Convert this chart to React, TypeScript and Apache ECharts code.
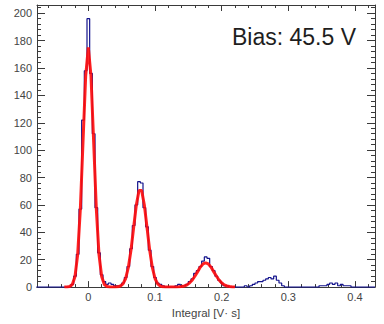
import React, { useEffect, useRef } from 'react';
import * as echarts from 'echarts';

// Histogram binning (lower edge of the first bin, bin width) and bin contents
const BIN_LOW = -0.078;
const BIN_WIDTH = 0.004;
const counts = [
  0, 0, 0, 0, 0, 0, 0, 0, 0, 0,
  0, 0, 0, 2, 8, 24, 57, 122, 158, 196,
  156, 112, 58, 25, 9, 4, 2, 3, 2, 1,
  1, 1, 3, 7, 15, 28, 45, 60, 77, 76,
  58, 44, 27, 15, 7, 3, 2, 1, 0, 0,
  0, 0, 1, 2, 1, 1, 2, 4, 6, 10,
  12, 15, 19, 22, 21, 15, 12, 8, 5, 3,
  1, 1, 0, 0, 0, 0, 0, 0, 1, 0,
  1, 2, 3, 4, 4, 5, 6, 7, 6, 8,
  5, 3, 1, 0, 0, 0, 0, 0, 0, 0,
  0, 0, 0, 0, 0, 0, 1, 1, 1, 2,
  3, 2, 3, 1, 2, 1, 1, 1, 0, 0,
  0, 0, 0, 0, 0, 0, 0,
];

// Fit curve sampled every FIT_STEP starting at FIT_START
const FIT_START = -0.036;
const FIT_STEP = 0.004;
const fitValues = [
  0, 0.1, 0.4, 1.9, 7.7, 23.7, 57, 106, 154, 175,
  154, 106, 57, 23.7, 7.7, 1.9, 0.4, 0.1, 0, 0,
  0.2, 0.8, 2.4, 6.3, 14.3, 27, 43.7, 60, 70.6, 70.6,
  60, 43.7, 27, 14.3, 6.3, 2.4, 0.8, 0.2, 0.1, 0,
  0, 0, 0.1, 0.2, 0.4, 0.8, 1.6, 3.1, 5.2, 8.1,
  11.3, 14.6, 16.9, 17.7, 16.9, 14.6, 11.3, 8.1, 5.2, 3.1,
  1.6, 0.8, 0.4, 0.1, 0,
];

const X_MIN = -0.077;
const X_MAX = 0.43;
const Y_MIN = 0;
const Y_MAX = 206;

const xMajorTicks = [0, 0.1, 0.2, 0.3, 0.4];
const xMinorTicks = [
  -0.06, -0.04, -0.02, 0.02, 0.04, 0.06, 0.08, 0.12, 0.14, 0.16, 0.18,
  0.22, 0.24, 0.26, 0.28, 0.32, 0.34, 0.36, 0.38, 0.42,
];
const yMajorTicks = [0, 20, 40, 60, 80, 100, 120, 140, 160, 180, 200];
const yMinorTicks = [
  4, 8, 12, 16, 24, 28, 32, 36, 44, 48, 52, 56, 64, 68, 72, 76,
  84, 88, 92, 96, 104, 108, 112, 116, 124, 128, 132, 136, 144, 148, 152, 156,
  164, 168, 172, 176, 184, 188, 192, 196, 204,
];

const X_TITLE = 'Integral [V· s]';
const ANNOTATION = 'Bias: 45.5 V';

const FONT = 'Liberation Sans, Arial, Helvetica, sans-serif';
const FRAME = '#3a3a3a';

function xAxis(position: 'top' | 'bottom', ticks: number[], len: number, withLine: boolean, withLabels: boolean) {
  return {
    type: 'value',
    min: X_MIN,
    max: X_MAX,
    position,
    axisLine: { show: withLine, onZero: false, lineStyle: { color: FRAME, width: 1 } },
    axisTick: { show: true, inside: true, length: len, customValues: ticks, lineStyle: { color: FRAME, width: 1 } },
    axisLabel: withLabels
      ? { show: true, customValues: ticks, margin: 4, fontSize: 11, color: '#444', fontFamily: FONT }
      : { show: false },
    splitLine: { show: false },
    ...(withLabels
      ? {
          name: X_TITLE,
          nameLocation: 'middle',
          nameGap: 14,
          nameTextStyle: { fontSize: 11.5, color: '#444', fontFamily: FONT },
        }
      : {}),
  };
}

function yAxis(position: 'left' | 'right', ticks: number[], len: number, withLine: boolean, withLabels: boolean) {
  return {
    type: 'value',
    min: Y_MIN,
    max: Y_MAX,
    position,
    axisLine: { show: withLine, onZero: false, lineStyle: { color: FRAME, width: 1 } },
    axisTick: { show: true, inside: true, length: len, customValues: ticks, lineStyle: { color: FRAME, width: 1 } },
    axisLabel: withLabels
      ? { show: true, customValues: ticks, margin: 5, fontSize: 11, color: '#444', fontFamily: FONT }
      : { show: false },
    splitLine: { show: false },
  };
}

export default function App() {
  const ref = useRef<HTMLDivElement>(null);

  useEffect(() => {
    if (!ref.current) return;
    const chart = echarts.init(ref.current, undefined, { renderer: 'svg' });

    const histData: number[][] = counts.map((c, i) => [BIN_LOW + i * BIN_WIDTH, c]);
    histData.push([BIN_LOW + counts.length * BIN_WIDTH, counts[counts.length - 1]]);
    const fitData: number[][] = fitValues.map((v, i) => [FIT_START + i * FIT_STEP, v]);

    chart.setOption({
      animation: false,
      backgroundColor: '#ffffff',
      grid: { left: 37, right: 9, top: 5, bottom: 29, containLabel: false },
      xAxis: [
        xAxis('bottom', xMajorTicks, 6, true, true),
        xAxis('bottom', xMinorTicks, 3, false, false),
        xAxis('top', xMajorTicks, 6, true, false),
        xAxis('top', xMinorTicks, 3, false, false),
      ],
      yAxis: [
        yAxis('left', yMajorTicks, 8, true, true),
        yAxis('left', yMinorTicks, 4, false, false),
        yAxis('right', yMajorTicks, 8, true, false),
        yAxis('right', yMinorTicks, 4, false, false),
      ],
      graphic: [
        {
          type: 'text',
          x: 232,
          y: 37,
          style: {
            text: ANNOTATION,
            fontSize: 23,
            fontFamily: FONT,
            fill: '#1e1e1e',
            verticalAlign: 'middle',
            align: 'left',
          },
          z: 10,
        },
      ],
      series: [
        {
          type: 'line',
          name: 'data',
          xAxisIndex: 0,
          yAxisIndex: 0,
          step: 'end',
          data: histData,
          showSymbol: false,
          symbol: 'none',
          clip: true,
          lineStyle: { color: '#12128c', width: 1.2 },
          z: 2,
        },
        {
          type: 'line',
          name: 'fit',
          xAxisIndex: 0,
          yAxisIndex: 0,
          data: fitData,
          showSymbol: false,
          symbol: 'none',
          clip: true,
          lineStyle: { color: '#ff0a0a', width: 3, opacity: 0.9 },
          z: 3,
        },
      ],
    });

    return () => {
      chart.dispose();
    };
  }, []);

  return (
    <div
      ref={ref}
      style={{ position: 'fixed', left: 0, top: 0, width: 384, height: 324, background: '#fff' }}
    />
  );
}
